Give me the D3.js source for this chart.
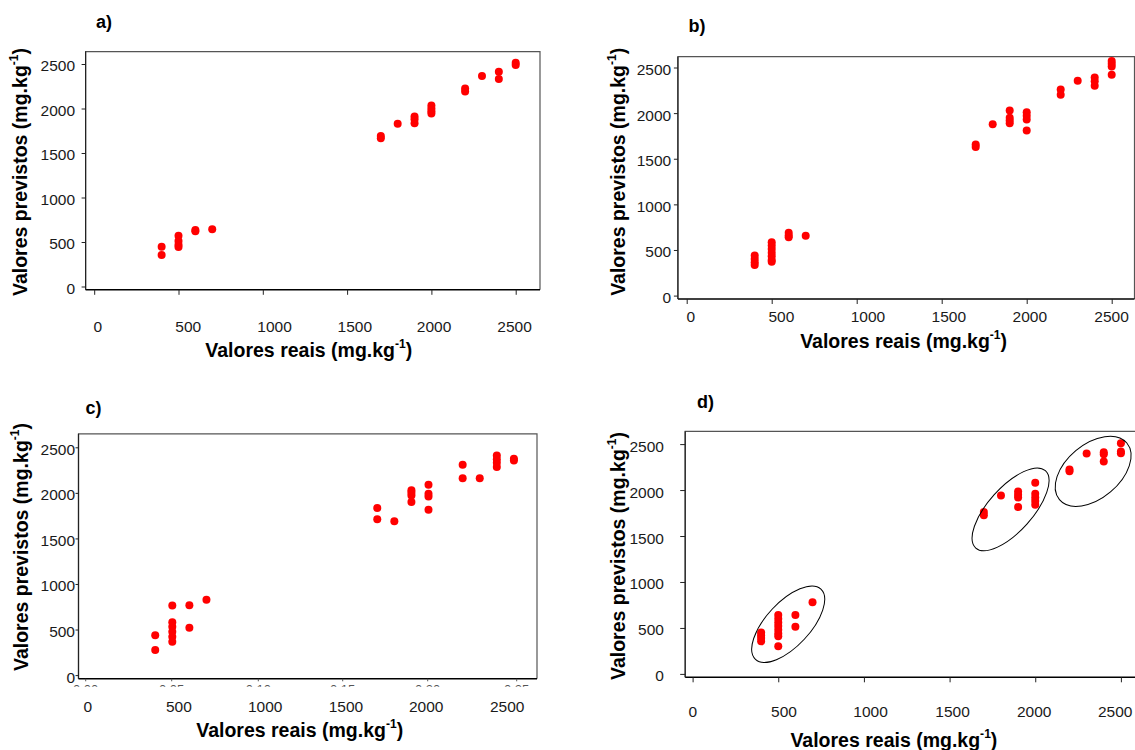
<!DOCTYPE html>
<html><head><meta charset="utf-8">
<script src="https://cdn.jsdelivr.net/npm/d3@7"></script>
<style>
html,body{margin:0;padding:0;background:#fff;}
svg{display:block;font-family:"Liberation Sans",Arial,sans-serif;}
</style></head>
<body>
<svg id="chart" width="1135" height="750"></svg>
<script>
// ---------------- DATA ----------------
const tickValues = [0, 500, 1000, 1500, 2000, 2500];
const tickLabels = ["0", "500", "1000", "1500", "2000", "2500"];
const cutLabels = ["0.00", "0.05", "0.10", "0.15", "0.20", "0.25"];
const panelNames = ["a)", "b)", "c)", "d)"];

const realA = [400,400, 500,500,500,500, 600,600, 700, 1700,1700, 1800, 1900,1900,1900, 2000,2000,2000,2000, 2200,2200, 2300, 2400,2400, 2500,2500];
const predA = [447,354, 570,510,470,445, 620,635, 643, 1665,1690, 1829, 1910,1880,1835, 2035,2000,1970,1945, 2225,2190, 2365, 2413,2331, 2490,2515];

const realB = [400,400,400,400, 500,500,500,500,500,500,500, 600,600,600, 700, 1700,1700, 1800, 1900,1900,1900,1900, 2000,2000,2000,2000, 2200,2200, 2300, 2400,2400,2400, 2500,2500,2500,2500];
const predB = [440,400,365,335, 585,550,510,470,430,390,370, 690,660,640, 656, 1655,1630, 1877, 2030,1950,1920,1890, 2010,1970,1930,1810, 2260,2200, 2356, 2390,2350,2300, 2570,2540,2510,2420];

const realC = [400,400, 500,500,500,500,500,500, 600,600, 700, 1700,1700, 1800, 1900,1900,1900,1900, 2000,2000,2000,2000, 2200,2200, 2300, 2400,2400,2400,2400, 2500,2500];
const predC = [437,275, 765,580,530,475,420,365, 766,520, 827, 1834,1710, 1688, 2030,2000,1970,1900, 2090,1990,1960,1815, 2309,2160, 2160, 2410,2370,2330,2285, 2375,2355];

const realD = [400,400,400,400, 500,500,500,500,500,500,500,500, 600,600, 700, 1700,1700, 1800, 1900,1900,1900,1900, 2000,2000,2000,2000,2000, 2200,2200, 2300, 2400,2400,2400, 2500,2500,2500];
const predD = [450,420,390,355, 640,600,560,520,480,440,410,300, 641,512, 780, 1760,1725, 1942, 1985,1950,1920,1815, 2080,1960,1920,1880,1840, 2225,2205, 2397, 2410,2390,2310, 2510,2420,2400];

// cluster ellipses of panel d (centre in data units)
const ellipseCX = [558, 1856, 2338];
const ellipseCY = [540, 1790, 2204];

// ---------------- LAYOUT ----------------
const layouts = [
  { // a
    xr: [94.2, 515.7], yr: [286.5, 64.0], box: [85.6, 51.6, 540, 289.8],
    yTick: 4, yLabRight: 75, xTick: 5,
    xLab: [97.4, 187.8, 274, 354.3, 433.6, 514], xLabY: 326.4,
    yTitle: [19.9, 172], xTitle: [308.8, 349.6], letter: [96, 22.4]
  },
  { // b
    xr: [686.7, 1111.7], yr: [295.6, 67.5], box: [677.9, 56.7, 1134.5, 299],
    yTick: 4, yLabRight: 671.2, xTick: 5,
    xLab: [690.4, 780.9, 867.4, 948.3, 1029.3, 1111], xLabY: 316.9,
    yTitle: [617.9, 171.8], xTitle: [903.6, 341.1], letter: [688.5, 26]
  },
  { // c
    xr: [86.9, 513.9], yr: [675.1, 447.3], box: [78.5, 433.8, 537, 678.8],
    yTick: 3, yLabRight: 75, xTick: 0,
    xLab: [87.4, 178.4, 264.7, 345.4, 425.7, 506.7], xLabY: 706.4,
    cutPos: [85.7, 171.7, 258.3, 342.7, 427.7, 516.7],
    yTitle: [21.4, 547], xTitle: [299.7, 730], letter: [85.6, 407.9]
  },
  { // d
    xr: [692.6, 1120.9], yr: [673.9, 444.1], box: [685.2, 431.3, 1145, 677.3],
    yTick: 5, yLabRight: 663.9, xTick: 5,
    xLab: [692.2, 783.5, 870, 952, 1033.7, 1114.7], xLabY: 711,
    yTitle: [617.9, 556], xTitle: [893.9, 739.7], letter: [697, 401.7],
    ellipses: [[48, 22, -47], [52, 22, -48], [44, 27, -40]]
  }
];

const seriesReal = [realA, realB, realC, realD];
const seriesPred = [predA, predB, predC, predD];

// ---------------- DRAW ----------------
const svg = d3.select("#chart");
const TICK_FONT = 15.5, TITLE_FONT = 19.5;

function addTitle(g, cx, cy, rotate, main) {
  const t = g.append("text")
    .attr("transform", `translate(${cx},${cy})` + (rotate ? " rotate(-90)" : ""))
    .attr("text-anchor", "middle").attr("dominant-baseline", "central")
    .attr("font-size", TITLE_FONT).attr("font-weight", "bold").attr("fill", "#000");
  t.append("tspan").text(main + " (mg.kg");
  t.append("tspan").attr("font-size", TITLE_FONT * 0.62).attr("dy", -6).text("-1");
  t.append("tspan").attr("dy", 6).text(")");
}

layouts.forEach((L, i) => {
  const g = svg.append("g");
  const x = d3.scaleLinear().domain([0, 2500]).range(L.xr);
  const y = d3.scaleLinear().domain([0, 2500]).range(L.yr);
  const [bx0, by0, bx1, by1] = L.box;

  // frame
  g.append("path")
    .attr("d", `M${bx0},${by1}V${by0}H${bx1}V${by1}`)
    .attr("fill", "none").attr("stroke", "#555").attr("stroke-width", 1.2);
  g.append("line").attr("x1", bx0).attr("x2", bx1).attr("y1", by1).attr("y2", by1)
    .attr("stroke", "#000").attr("stroke-width", 1.4);
  g.append("line").attr("x1", bx0).attr("x2", bx0).attr("y1", by0).attr("y2", by1)
    .attr("stroke", "#222").attr("stroke-width", 1.2);

  // y axis
  const ya = g.append("g").attr("transform", `translate(${bx0},0)`)
    .call(d3.axisLeft(y).tickValues(tickValues).tickFormat((d, k) => tickLabels[k])
      .tickSize(L.yTick).tickPadding(bx0 - L.yLabRight - L.yTick));
  ya.select(".domain").remove();
  ya.selectAll("line").attr("stroke", "#222");
  ya.selectAll("text").attr("font-size", TICK_FONT).attr("font-family", "Liberation Sans, Arial, sans-serif")
    .attr("fill", "#1a1a1a").attr("dy", "0.45em");

  // x axis tick marks
  if (L.xTick > 0) {
    const xa = g.append("g").attr("transform", `translate(0,${by1})`)
      .call(d3.axisBottom(x).tickValues(tickValues).tickFormat("").tickSize(L.xTick));
    xa.select(".domain").remove();
    xa.selectAll("line").attr("stroke", "#222");
  }
  // x tick labels (offset scale)
  const xl = d3.scaleLinear().domain(tickValues).range(L.xLab);
  const xla = g.append("g").attr("transform", `translate(0,${L.xLabY})`)
    .call(d3.axisBottom(xl).tickValues(tickValues).tickFormat((d, k) => tickLabels[k]).tickSize(0).tickPadding(0));
  xla.select(".domain").remove();
  xla.selectAll("text").attr("y", 0).attr("dy", "0.36em").attr("font-size", TICK_FONT)
    .attr("font-family", "Liberation Sans, Arial, sans-serif").attr("fill", "#1a1a1a");

  // truncated old labels (panel c)
  if (L.cutPos) {
    const cid = "cut" + i;
    svg.append("clipPath").attr("id", cid).append("rect")
      .attr("x", 0).attr("y", by1 + 5).attr("width", 600).attr("height", 3);
    const cg = g.append("g").attr("clip-path", `url(#${cid})`);
    cg.selectAll("text").data(cutLabels).join("text")
      .attr("x", (d, k) => L.cutPos[k]).attr("y", by1 + 15.5)
      .attr("text-anchor", "middle").attr("font-size", 13).attr("fill", "#555").text(d => d);
    g.selectAll("line.ct").data(cutLabels).join("line").attr("class", "ct")
      .attr("x1", (d, k) => L.cutPos[k]).attr("x2", (d, k) => L.cutPos[k])
      .attr("y1", by1).attr("y2", by1 + 2.5).attr("stroke", "#555");
  }

  // points
  g.append("g").selectAll("circle").data(seriesReal[i]).join("circle")
    .attr("cx", d => x(d)).attr("cy", (d, k) => y(seriesPred[i][k]))
    .attr("r", 4).attr("fill", "#ff0000");

  // ellipses (panel d)
  if (L.ellipses) {
    g.append("g").selectAll("ellipse").data(L.ellipses).join("ellipse")
      .attr("transform", (e, k) => `translate(${x(ellipseCX[k])},${y(ellipseCY[k])}) rotate(${e[2]})`)
      .attr("rx", e => e[0]).attr("ry", e => e[1])
      .attr("fill", "none").attr("stroke", "#000").attr("stroke-width", 1);
  }

  // titles
  addTitle(g, L.yTitle[0], L.yTitle[1], true, "Valores previstos");
  addTitle(g, L.xTitle[0], L.xTitle[1], false, "Valores reais");
  g.append("text").attr("x", L.letter[0]).attr("y", L.letter[1]).attr("dominant-baseline", "central")
    .attr("font-size", 18).attr("font-weight", "bold").attr("fill", "#000").text(panelNames[i]);
});
</script>
</body></html>
